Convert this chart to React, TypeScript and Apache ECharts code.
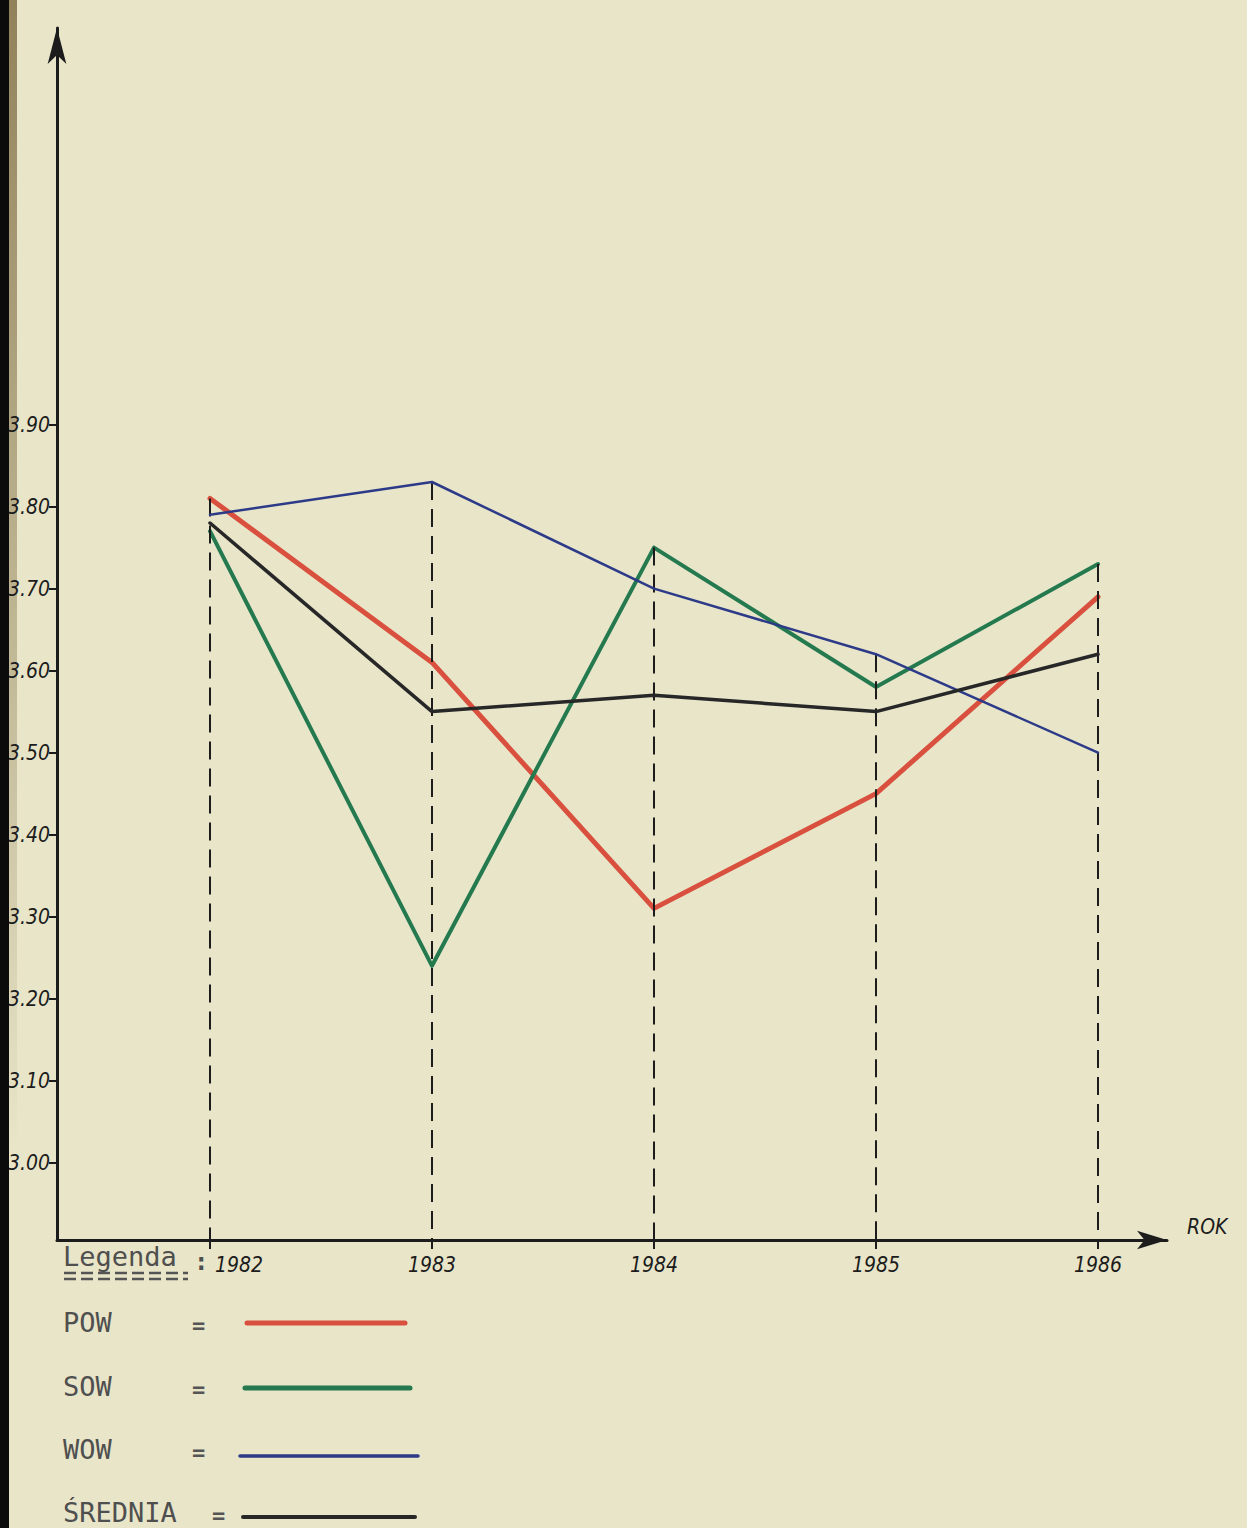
import React, { useEffect, useRef } from "react";
import * as echarts from "echarts";

// ---- data ----
const years = [1982, 1983, 1984, 1985, 1986];
const seriesNames = ["POW", "SOW", "WOW", "ŚREDNIA"];
const powValues = [3.81, 3.61, 3.31, 3.45, 3.69];
const sowValues = [3.77, 3.24, 3.75, 3.58, 3.73];
const wowValues = [3.79, 3.83, 3.7, 3.62, 3.5];
const sredniaValues = [3.78, 3.55, 3.57, 3.55, 3.62];
const yTickValues = [3.0, 3.1, 3.2, 3.3, 3.4, 3.5, 3.6, 3.7, 3.8, 3.9];
const xAxisName = "ROK";
const legendTitle = "Legenda";

// ---- styles / layout ----
const W = 1247;
const H = 1528;
const PAPER = "#e8e5c9";
const INK = "#1c1c1c";
const seriesColors = ["#d9503f", "#24794f", "#2c3a88", "#272727"];
const seriesWidths = [5, 4, 2.5, 3.5];
const legendRowsY = [1322, 1386, 1449, 1512];
const legendLineY = [1323, 1388, 1456, 1517];
const legendLineX = [
  [247, 405],
  [245, 410],
  [240, 418],
  [243, 415],
];
const legendEqX = [192, 192, 192, 212];
const legendLineW = [5, 5, 3.5, 4];

const AXIS_X = 57;
const AXIS_Y = 1240;
const Y_TOP = 28;
const X_RIGHT = 1167;
const PX_PER_UNIT = 820; // per 1.00 on the value axis
const Y3_PX = 1162.6;
const yMin = 3 - (AXIS_Y - Y3_PX) / PX_PER_UNIT;
const yMax = yMin + (AXIS_Y - Y_TOP) / PX_PER_UNIT;
const PX_PER_YEAR = 222;
const X1982 = 210;
const xMin = years[0] - (X1982 - AXIS_X) / PX_PER_YEAR;
const xMax = xMin + (X_RIGHT - AXIS_X) / PX_PER_YEAR;

const HAND = "'DejaVu Sans Condensed', 'DejaVu Sans', sans-serif";
const MONO = "'DejaVu Sans Mono', monospace";

export default function App() {
  const ref = useRef<HTMLDivElement>(null);

  useEffect(() => {
    if (!ref.current) return;
    const chart = echarts.init(ref.current, undefined, { renderer: "svg" });
    const allValues = [powValues, sowValues, wowValues, sredniaValues];
    const tops = years.map((_, i) => Math.max(...allValues.map((v) => v[i])));

    const series: any[] = allValues.map((vals, si) => ({
      name: seriesNames[si],
      type: "line",
      data: years.map((y, i) => [y, vals[i]]),
      symbol: "none",
      silent: true,
      z: 3 + si,
      lineStyle: { color: seriesColors[si], width: seriesWidths[si], cap: "round", join: "round" },
      itemStyle: { color: seriesColors[si] },
    }));
    // dashed drop lines
    series.push({
      name: "drop",
      type: "line",
      data: [],
      symbol: "none",
      silent: true,
      z: 2,
      markLine: {
        silent: true,
        symbol: ["none", "none"],
        label: { show: false },
        lineStyle: { color: INK, width: 2, type: [18, 9] },
        data: years.map((y, i) => [{ coord: [y, tops[i]] }, { coord: [y, yMin] }]),
      },
    });

    const graphic: any[] = [
      { type: "rect", z: 100, shape: { x: 0, y: 0, width: 9, height: H }, style: { fill: "#0b0b0b" } },
      {
        type: "rect",
        z: -10,
        shape: { x: 9, y: 0, width: 8, height: 1150 },
        style: {
          fill: new echarts.graphic.LinearGradient(0, 0, 0, 1, [
            { offset: 0, color: "rgba(135,118,78,0.9)" },
            { offset: 0.6, color: "rgba(150,135,95,0.45)" },
            { offset: 1, color: "rgba(150,135,95,0)" },
          ]),
        },
      },
      {
        type: "text",
        left: 1187,
        top: 1216,
        style: { text: xAxisName, font: `italic 21px ${HAND}`, fill: INK },
      },
      {
        type: "text",
        x: 63,
        y: 1256,
        style: { text: legendTitle, font: `27px ${MONO}`, fill: "#4f4f4f", verticalAlign: "middle" },
      },
      {
        type: "line",
        shape: { x1: 64, y1: 1273, x2: 188, y2: 1273 },
        style: { stroke: "#555", lineWidth: 2.5, lineDash: [12, 5] },
      },
      {
        type: "line",
        shape: { x1: 64, y1: 1279, x2: 188, y2: 1279 },
        style: { stroke: "#555", lineWidth: 2.5, lineDash: [12, 5] },
      },
      {
        type: "text",
        x: 194,
        y: 1262,
        style: { text: ":", font: `bold 24px ${MONO}`, fill: "#4f4f4f", verticalAlign: "middle" },
      },
    ];
    seriesNames.forEach((name, i) => {
      graphic.push({
        type: "text",
        x: 63,
        y: legendRowsY[i],
        style: { text: name, font: `27px ${MONO}`, fill: "#4f4f4f", verticalAlign: "middle" },
      });
      graphic.push({
        type: "text",
        x: legendEqX[i],
        y: legendRowsY[i] + 3,
        style: { text: "=", font: `bold 22px ${MONO}`, fill: "#555", verticalAlign: "middle" },
      });
      graphic.push({
        type: "line",
        shape: { x1: legendLineX[i][0], y1: legendLineY[i], x2: legendLineX[i][1], y2: legendLineY[i] },
        style: { stroke: seriesColors[i], lineWidth: legendLineW[i], lineCap: "round" },
      });
    });

    chart.setOption({
      animation: false,
      backgroundColor: PAPER,
      grid: { left: AXIS_X, top: Y_TOP, right: W - X_RIGHT, bottom: H - AXIS_Y, containLabel: false },
      xAxis: {
        type: "value",
        min: xMin,
        max: xMax,
        splitLine: { show: false },
        axisLine: {
          show: true,
          symbol: ["none", "arrow"],
          symbolSize: [14, 30],
          lineStyle: { color: INK, width: 3 },
        },
        axisTick: { show: true, customValues: years, length: 9, lineStyle: { color: INK, width: 2 } },
        axisLabel: {
          show: true,
          customValues: years,
          margin: 14,
          formatter: (v: number) => (v === years[0] ? `{s|${v}}` : `{n|${v}}`),
          rich: {
            n: { fontFamily: HAND, fontStyle: "italic", fontSize: 21, color: INK },
            s: { fontFamily: HAND, fontStyle: "italic", fontSize: 21, color: INK, padding: [0, 0, 0, 58] },
          },
        },
      },
      yAxis: {
        type: "value",
        min: yMin,
        max: yMax,
        splitLine: { show: false },
        axisLine: {
          show: true,
          symbol: ["none", "arrow"],
          symbolSize: [14, 36],
          lineStyle: { color: INK, width: 3 },
        },
        axisTick: { show: true, customValues: yTickValues, length: 8, lineStyle: { color: INK, width: 2 } },
        axisLabel: {
          show: true,
          customValues: yTickValues,
          margin: 7,
          formatter: (v: number) => v.toFixed(2),
          fontFamily: HAND,
          fontStyle: "italic",
          fontSize: 21,
          color: INK,
        },
      },
      graphic,
      series,
    });
    return () => chart.dispose();
  }, []);

  return (
    <div
      ref={ref}
      style={{ position: "fixed", left: 0, top: 0, width: W, height: H, background: PAPER }}
    />
  );
}
